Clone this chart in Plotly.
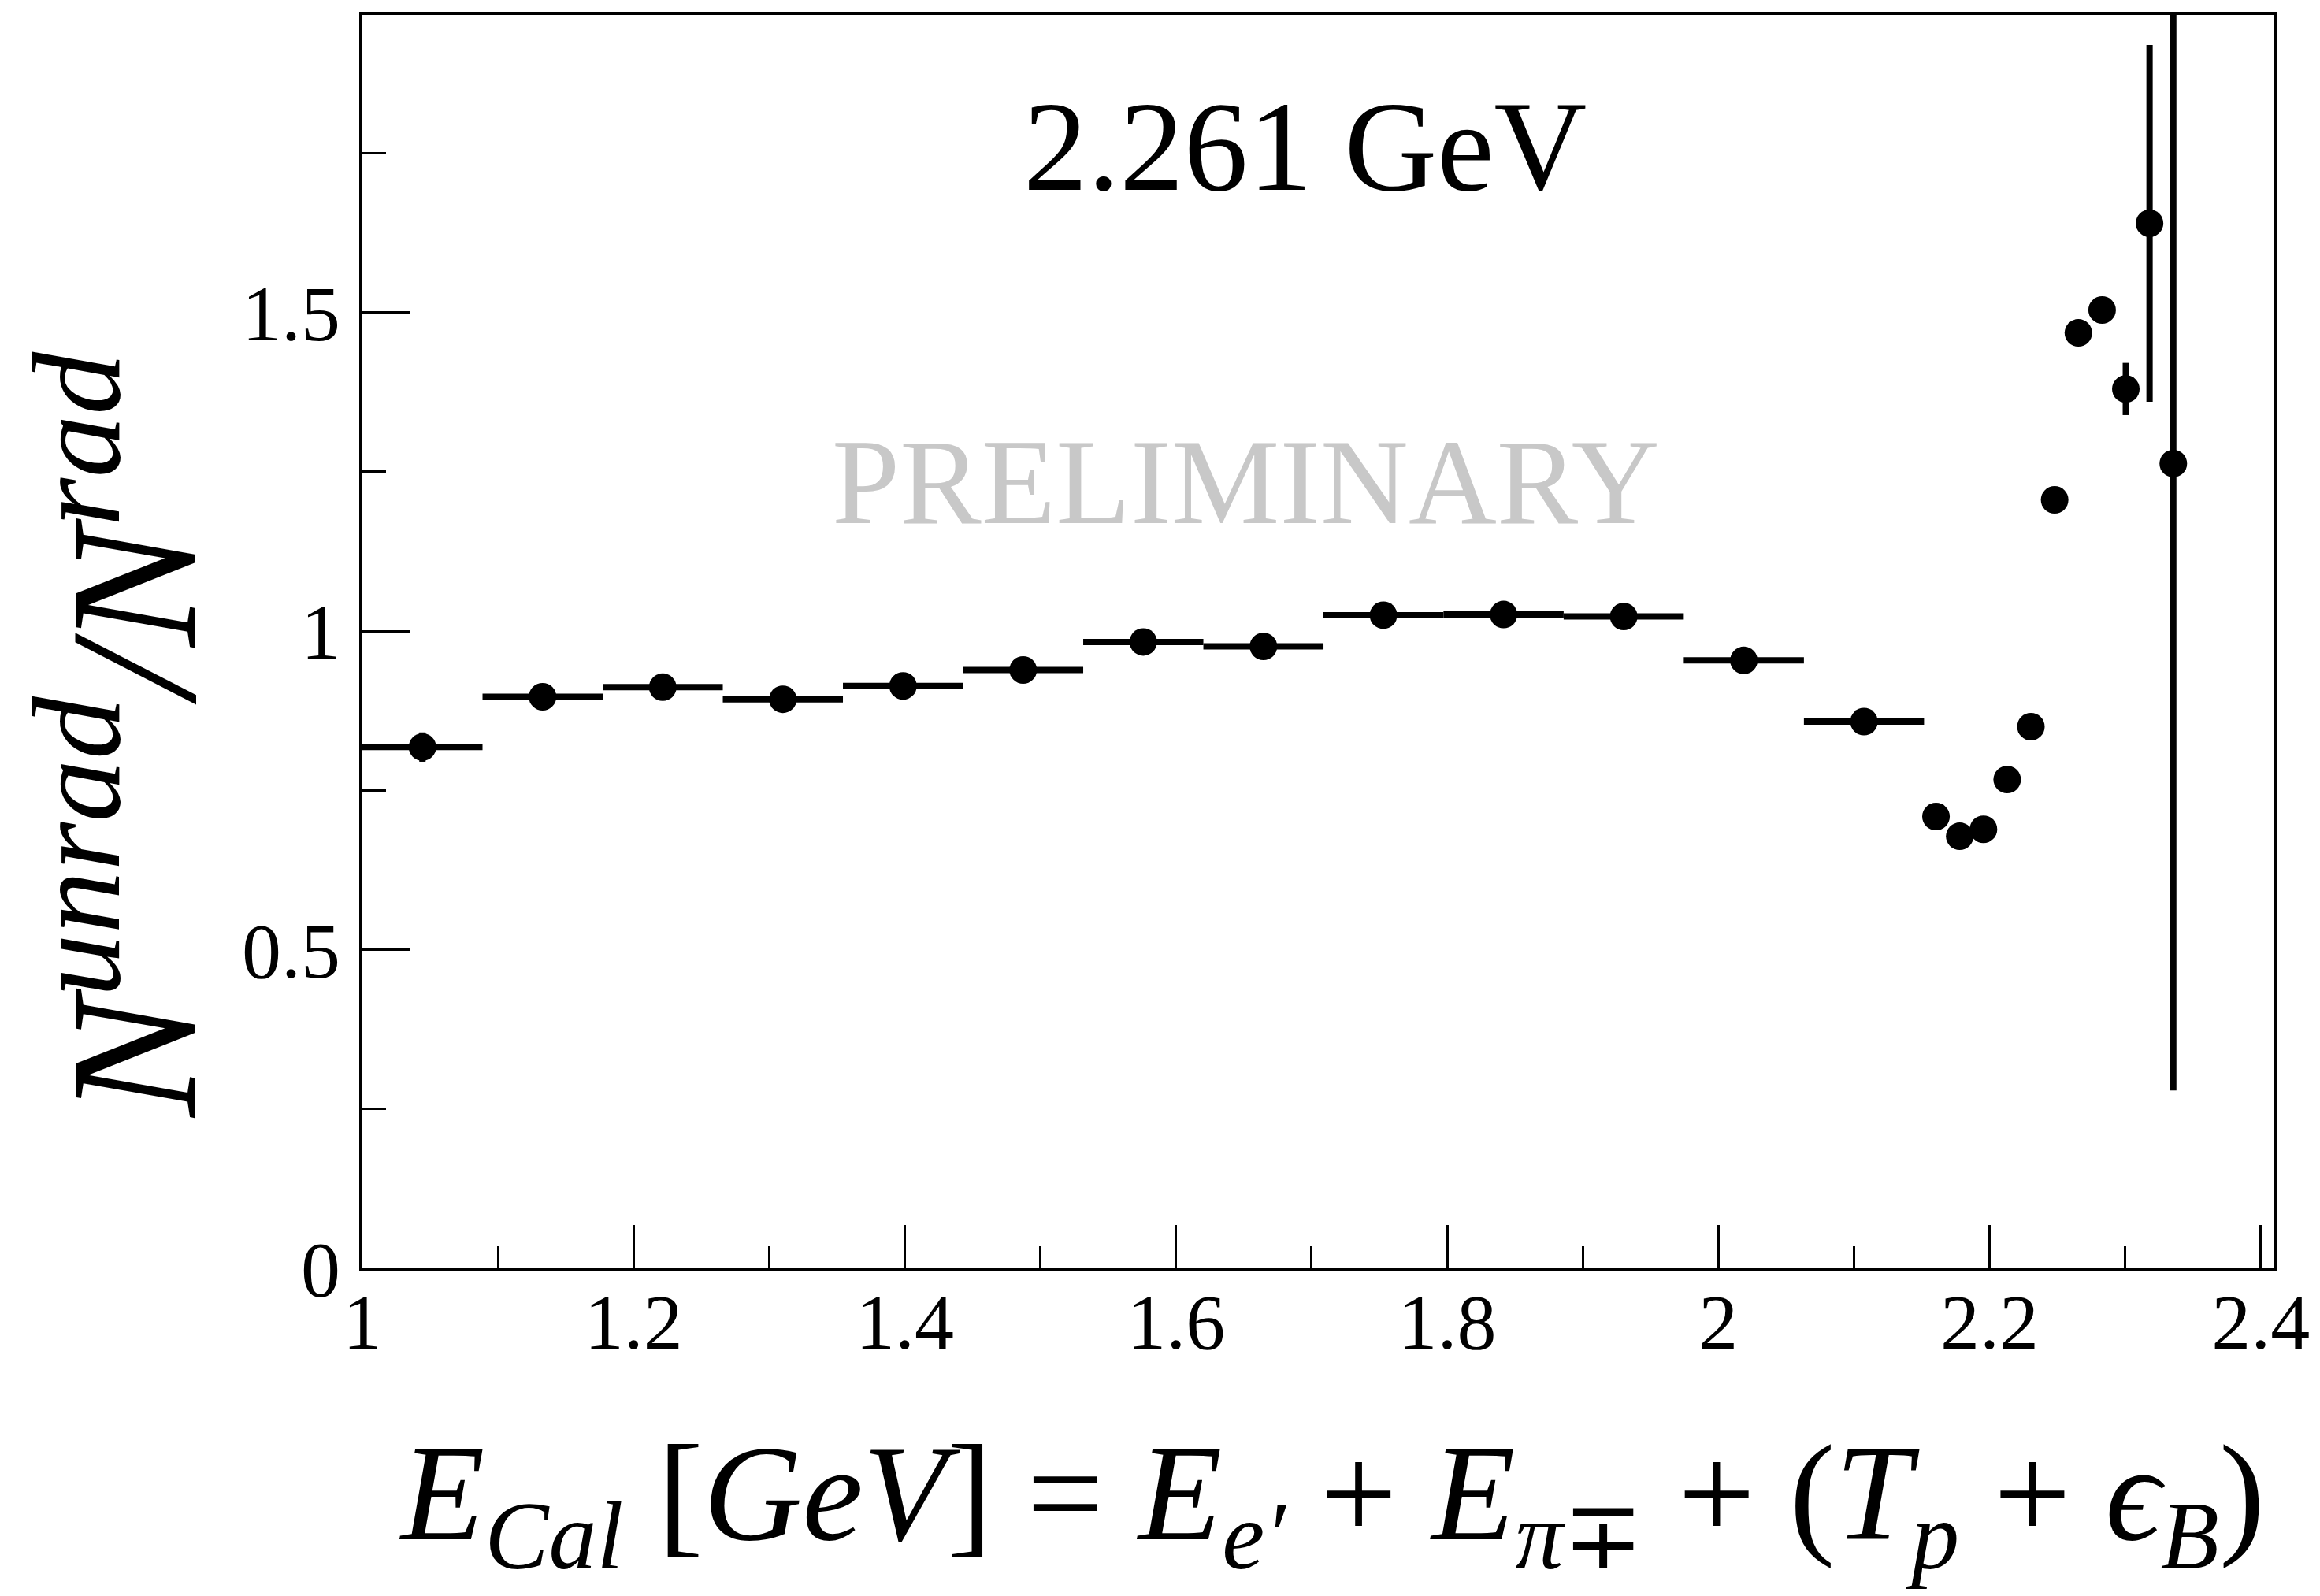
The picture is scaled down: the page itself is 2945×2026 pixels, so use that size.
import plotly.graph_objects as go

# ---- data ----
x_center = [1.0443, 1.1329, 1.2215, 1.3101, 1.3987, 1.4873, 1.5759, 1.6645,
            1.7530, 1.8416, 1.9302, 2.0188, 2.1074,
            2.1605, 2.1780, 2.1955, 2.2130, 2.2305, 2.2480, 2.2655, 2.2830,
            2.3005, 2.3180, 2.3355]
x_half = [0.0443] * 13 + [0.00875] * 11
ratio = [0.818, 0.897, 0.912, 0.893, 0.914, 0.939, 0.983, 0.976,
         1.025, 1.026, 1.023, 0.954, 0.858,
         0.709, 0.678, 0.689, 0.767, 0.850, 1.206, 1.468, 1.504,
         1.380, 1.640, 1.263]
ratio_err = [0.023, 0.012, 0.012, 0.012, 0.012, 0.012, 0.013, 0.013,
             0.014, 0.014, 0.015, 0.016, 0.018,
             0.015, 0.015, 0.016, 0.017, 0.019, 0.020, 0.020, 0.020,
             0.041, 0.280, 0.984]

x_tickvals = [1.0, 1.2, 1.4, 1.6, 1.8, 2.0, 2.2, 2.4]
x_ticktext = ["1", "1.2", "1.4", "1.6", "1.8", "2", "2.2", "2.4"]
y_tickvals = [0, 0.5, 1.0, 1.5]
y_ticktext = ["0", "0.5", "1", "1.5"]

energy_label = "2.261 GeV"
watermark = "PRELIMINARY"

FONT = "Liberation Serif"

fig = go.Figure()
fig.add_trace(go.Scatter(
    x=x_center, y=ratio, mode="markers",
    marker=dict(color="black", size=35),
    error_x=dict(type="data", array=x_half, thickness=8, width=0, color="black"),
    error_y=dict(type="data", array=ratio_err, thickness=8, width=0, color="black"),
    showlegend=False,
))

axis_common = dict(
    showline=True, linecolor="black", linewidth=4, mirror=True,
    showgrid=False, zeroline=False,
    ticks="inside", tickcolor="black", tickwidth=3,
    tickfont=dict(family=FONT, size=100, color="black"),
)

fig.update_xaxes(
    range=[1.0, 2.41], tickmode="array", tickvals=x_tickvals, ticktext=x_ticktext,
    ticklen=55, ticklabelstandoff=-22,
    minor=dict(ticks="inside", dtick=0.1, tick0=1.0, ticklen=28, tickwidth=3, tickcolor="black"),
    **axis_common,
)
fig.update_yaxes(
    range=[0.0, 1.967], tickmode="array", tickvals=y_tickvals, ticktext=y_ticktext,
    ticklen=60, ticklabelstandoff=4,
    minor=dict(ticks="inside", dtick=0.25, tick0=0.0, ticklen=30, tickwidth=3, tickcolor="black"),
    **axis_common,
)

fig.add_annotation(
    text=energy_label, xref="paper", yref="paper", x=0.4928, y=0.895,
    xanchor="center", yanchor="middle", showarrow=False,
    font=dict(family=FONT, size=163, color="black"),
)
fig.add_annotation(
    text=watermark, xref="paper", yref="paper", x=0.4619, y=0.6273,
    xanchor="center", yanchor="middle", showarrow=False,
    font=dict(family=FONT, size=155, color="#c8c8c8"),
)
fig.add_annotation(
    text="<i>N<sup>unrad</sup>/N<sup>rad</sup></i>",
    xref="paper", yref="paper", x=-0.1268, y=0.426,
    xanchor="center", yanchor="middle", textangle=-90, showarrow=False,
    font=dict(family=FONT, size=228, color="black"),
)
fig.add_annotation(
    text=("<i>E</i><sub><i>Cal</i></sub> [<i>GeV</i>] = <i>E</i><sub><i>e′</i></sub> + "
          "<i>E</i><sub><i>π</i>∓</sub> + (<i>T</i><sub><i>p</i></sub> + "
          "<i>ϵ</i><sub><i>B</i></sub>)"),
    xref="paper", yref="paper", x=0.5068, y=-0.187,
    xanchor="center", yanchor="middle", showarrow=False,
    font=dict(family=FONT, size=174, color="black"),
)

# the page adds an 8 px body margin, so the figure is 8 px smaller than the window
fig.update_layout(
    width=2937, height=2018,
    margin=dict(l=452, r=58, t=11, b=416, autoexpand=False),
    paper_bgcolor="white", plot_bgcolor="white",
)

fig.write_html("out.html")
